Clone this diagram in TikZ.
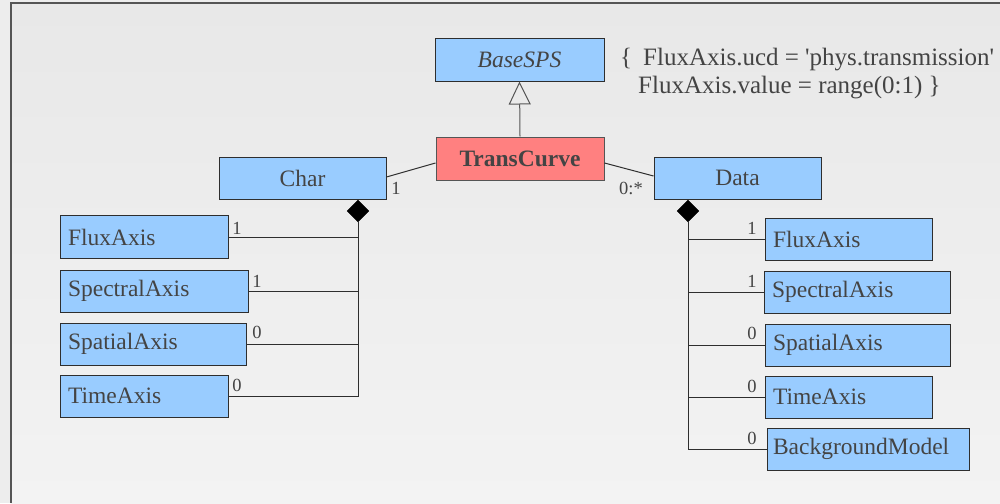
\documentclass[tikz,border=0pt]{standalone}
\usepackage{fontspec}
\setmainfont{Liberation Serif}
\usetikzlibrary{arrows.meta,shapes.geometric}
\definecolor{boxblue}{HTML}{99CCFF}
\definecolor{boxred}{HTML}{FF8080}
\definecolor{txt}{HTML}{444444}
\definecolor{edge}{HTML}{2E2E2E}
\definecolor{framec}{HTML}{555555}
\definecolor{bgtop}{HTML}{E8E8E8}
\definecolor{bgbot}{HTML}{F3F3F3}
\definecolor{bgout}{HTML}{EDEDED}
\begin{document}
\begin{tikzpicture}[x=1pt,y=-1pt,
  cls/.style={draw=edge, line width=1pt, fill=boxblue, text=txt,
    font=\fontsize{23.5}{28}\selectfont, inner xsep=0pt, inner ysep=0pt, minimum height=42pt},
  lcls/.style={cls, inner xsep=8pt, align=left},
  mult/.style={text=txt, font=\fontsize{18.5}{20}\selectfont, inner sep=0pt},
  notetxt/.style={text=txt, font=\fontsize{25}{28}\selectfont, inner sep=0pt, anchor=base west},
  conn/.style={draw=edge, line width=1pt},
  comp/.style={diamond, fill=black, draw=black, inner sep=0pt, minimum width=22pt, minimum height=22pt}]
\useasboundingbox (0,0) rectangle (1000,503);
% background
\fill[bgout] (0,0) rectangle (1000,503);
\shade[top color=bgtop, bottom color=bgbot] (11,3) rectangle (1000,503);
\draw[framec, line width=1.6pt] (11,503) -- (11,3) -- (1000,3);
% top classes
\node[cls, minimum width=169pt, font=\fontsize{23.5}{28}\selectfont\itshape] (base) at (519.5,60) {BaseSPS};
\node[cls, fill=boxred, draw=framec, minimum width=168pt, minimum height=43pt,
  font=\fontsize{23.5}{28}\selectfont\bfseries] (tc) at (520,158.5) {TransCurve};
\node[cls, minimum width=167pt] (char) at (302.5,178) {Char};
\node[cls, minimum width=167pt] (data) at (737.5,178) {Data};
% note
\node[notetxt] (note1) at (620,65) {\{\hspace{11pt}FluxAxis.ucd = \textquotesingle phys.transmission\textquotesingle};
\node[notetxt] (note2) at (638,93) {FluxAxis.value = range(0:1) \}};
% left parts
\node[lcls, text width=152pt, minimum height=43pt] (lflux) at (144,237) {FluxAxis};
\node[lcls, text width=172pt] (lspec) at (154,291) {SpectralAxis};
\node[lcls, text width=170pt] (lspat) at (153,344) {SpatialAxis};
\node[lcls, text width=152pt] (ltime) at (144,396) {TimeAxis};
% right parts
\node[lcls, text width=151pt] (rflux) at (848.5,239) {FluxAxis};
\node[lcls, text width=170pt] (rspec) at (857,292) {SpectralAxis};
\node[lcls, text width=169pt] (rspat) at (857.5,345) {SpatialAxis};
\node[lcls, text width=151pt] (rtime) at (848.5,397) {TimeAxis};
\node[lcls, inner xsep=6pt, text width=190pt] (rbg) at (868,449) {BackgroundModel};
% diamonds
\node[comp] (cd) at (358,211) {};
\node[comp] (dd) at (688,211) {};
% generalization
\draw[draw=framec, line width=1pt, -{Triangle[open, width=22pt, length=23pt, line width=1pt]}] (tc.north) -- (base.south);
% associations
\draw[conn] ([yshift=-4.5pt]tc.west) -- ([yshift=1pt]char.east);
\draw[conn] ([yshift=-4.5pt]tc.east) -- ([yshift=2pt]data.west);
\node[mult] (m1) at (396,188) {1};
\node[mult] (m2) at (631,188) {0:*};
% left compositions
\draw[conn] (cd.south) |- (ltime.east);
\draw[conn] (lflux.east) -- (lflux.east -| cd.south);
\draw[conn] (lspec.east) -- (lspec.east -| cd.south);
\draw[conn] (lspat.east) -- (lspat.east -| cd.south);
\node[mult] (lm1) at (237,228) {1};
\node[mult] (lm2) at (257,281) {1};
\node[mult] (lm3) at (257,332) {0};
\node[mult] (lm4) at (237,385) {0};
% right compositions
\draw[conn] (dd.south) |- (rbg.west);
\draw[conn] (rflux.west) -- (rflux.west -| dd.south);
\draw[conn] (rspec.west) -- (rspec.west -| dd.south);
\draw[conn] (rspat.west) -- (rspat.west -| dd.south);
\draw[conn] (rtime.west) -- (rtime.west -| dd.south);
\node[mult] (rm1) at (752,228) {1};
\node[mult] (rm2) at (752,281) {1};
\node[mult] (rm3) at (752,333) {0};
\node[mult] (rm4) at (752,386) {0};
\node[mult] (rm5) at (752,438) {0};
\end{tikzpicture}
\end{document}
